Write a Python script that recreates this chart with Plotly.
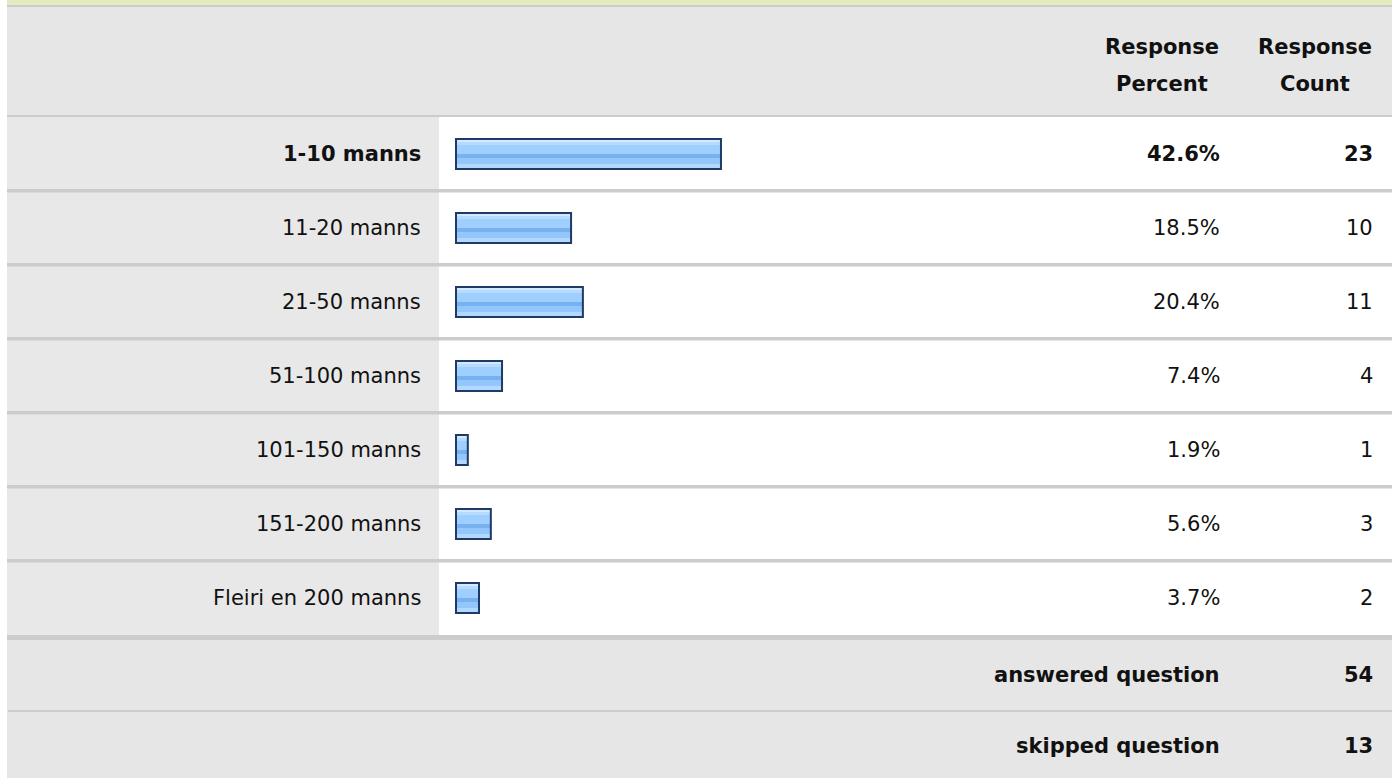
import plotly.graph_objects as go

# survey answers
answers = [
    "1-10 manns",
    "11-20 manns",
    "21-50 manns",
    "51-100 manns",
    "101-150 manns",
    "151-200 manns",
    "Fleiri en 200 manns",
]
percents = [42.6, 18.5, 20.4, 7.4, 1.9, 5.6, 3.7]
counts = [23, 10, 11, 4, 1, 3, 2]
header_lines = [("Response", "Percent"), ("Response", "Count")]
footer_labels = ["answered question", "skipped question"]
footer_counts = [54, 13]

W, H = 1399, 778
FONT = "DejaVu Sans"
FS = 21
TXT = "#111111"
ROW_H = 74  # px per answer row
ROW0 = 154  # px centre of first answer row
PX_PER_PCT = 6.22
BAR_X0 = 456  # px where 0% sits
BAR_H = 30  # px

GRID = "#cccccc"
HEAD_BG = "#e6e6e6"
LEFT_BG = "#e8e8e8"
TOP_BAND = "#e5ebc1"
NAVY = "#1f3a64"
# stripes of the glossy bar: (top px inside bar, height px, colour)
stripes = [
    (0, 3, "#d3e9ff"),
    (3, 3, "#b6dbff"),
    (6, 9, "#9fcfff"),
    (15, 4, "#78b1ef"),
    (19, 6, "#93c7fc"),
    (25, 5, "#b2d8ff"),
]


def xp(px):
    return px / W


def yp(px):
    return 1 - px / H


top = counts.index(max(counts))

fig = go.Figure()

for t, h, col in stripes:
    fig.add_trace(
        go.Bar(
            x=percents,
            y=answers,
            orientation="h",
            width=h / ROW_H,
            offset=(t - BAR_H / 2) / ROW_H,
            marker=dict(color=col, line=dict(width=0)),
            hoverinfo="skip",
        )
    )
# outline on top
fig.add_trace(
    go.Bar(
        x=percents,
        y=answers,
        orientation="h",
        width=BAR_H / ROW_H,
        offset=-BAR_H / 2 / ROW_H,
        marker=dict(color="rgba(0,0,0,0)", line=dict(width=2, color=NAVY)),
        hovertemplate="%{y}: %{x}%<extra></extra>",
    )
)

shapes = []


def rect(x0, x1, y0, y1, color):
    shapes.append(
        dict(
            type="rect", xref="paper", yref="paper",
            x0=xp(x0), x1=xp(x1), y0=yp(y0), y1=yp(y1),
            fillcolor=color, line=dict(width=0), layer="below",
        )
    )


L, R = 7, 1392
rect(L, R, 0, 5, TOP_BAND)
rect(L, R, 5, 7, GRID)
rect(L, R, 7, 115, HEAD_BG)
rect(L, R, 115, 117, GRID)
rows_end = ROW0 + ROW_H * (len(answers) - 0.5)
rect(L, 439, 117, rows_end, LEFT_BG)
for i in range(len(answers) - 1):
    b = ROW0 + ROW_H * (i + 0.5)
    rect(L, R, b - 2, b + 1.5, GRID)
rect(L, R, rows_end, rows_end + 5, GRID)
rect(L, R, rows_end + 5, H, HEAD_BG)
rect(L + 1, R, 710, 712, GRID)

ann = []


def label(x, y, text, anchor="right", bold=False, yref="y"):
    ann.append(
        dict(
            x=xp(x), xref="paper", y=y, yref=yref,
            text=f"<b>{text}</b>" if bold else text,
            xanchor=anchor, yanchor="middle", showarrow=False,
            font=dict(family=FONT, size=FS, color=TXT),
        )
    )


# header
for cx, (l1, l2) in zip([1162, 1315], header_lines):
    label(cx, yp(47), l1, "center", True, "paper")
    label(cx, yp(84), l2, "center", True, "paper")

# rows
for i, (a, p, c) in enumerate(zip(answers, percents, counts)):
    b = i == top
    label(423, a, a, bold=b)
    label(1222, a, f"{p:.1f}%", bold=b)
    label(1375, a, str(c), bold=b)

# footer
for fy, lab, c in zip([675, 746], footer_labels, footer_counts):
    label(1222, yp(fy), lab, bold=True, yref="paper")
    label(1375, yp(fy), str(c), bold=True, yref="paper")

fig.update_layout(
    width=W,
    height=H,
    margin=dict(l=0, r=0, t=0, b=0),
    paper_bgcolor="white",
    plot_bgcolor="rgba(0,0,0,0)",
    barmode="overlay",
    showlegend=False,
    shapes=shapes,
    annotations=ann,
    font=dict(family=FONT, size=FS, color=TXT),
)
fig.update_xaxes(
    range=[-BAR_X0 / PX_PER_PCT, (W - BAR_X0) / PX_PER_PCT],
    visible=False, fixedrange=True,
)
fig.update_yaxes(
    type="category",
    categoryorder="array",
    categoryarray=answers,
    range=[(H - ROW0) / ROW_H, -ROW0 / ROW_H],
    visible=False, fixedrange=True,
)

# drop the default page margin so the figure sits at the window corner
fig.write_html(
    "out.html",
    config={"displayModeBar": False},
    post_script="document.body.style.margin='0';document.body.style.overflow='hidden';",
)
